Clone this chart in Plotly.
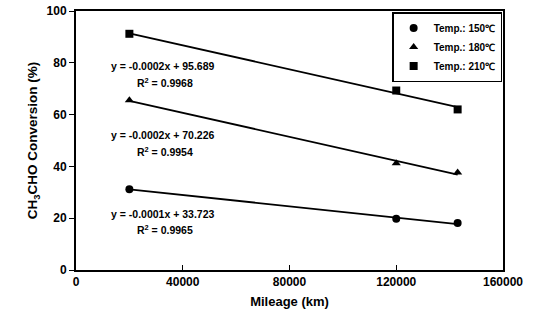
import numpy as np
import plotly.graph_objects as go

mileage = [20000, 120000, 143000]
conv_150 = [31.2, 19.8, 18.1]
conv_180 = [65.5, 41.2, 37.6]
conv_210 = [91.2, 69.3, 62.0]
series_names = ["Temp.: 150℃", "Temp.: 180℃", "Temp.: 210℃"]
symbols = ["circle", "triangle-up", "square"]
eq_texts = [
    ("y = -0.0001x + 33.723", "R<sup>2</sup> = 0.9965"),
    ("y = -0.0002x + 70.226", "R<sup>2</sup> = 0.9954"),
    ("y = -0.0002x + 95.689", "R<sup>2</sup> = 0.9968"),
]
eq_pos_y = [(21.5, 15.8), (52.2, 45.8), (78.6, 72.4)]
x_ticks = [0, 40000, 80000, 120000, 160000]
y_ticks = [0, 20, 40, 60, 80, 100]

font = "Liberation Sans, Arial, sans-serif"
fig = go.Figure()
for vals, name, sym in zip([conv_150, conv_180, conv_210], series_names, symbols):
    m, b = np.polyfit(mileage, vals, 1)
    xs = [mileage[0], mileage[-1]]
    fig.add_trace(go.Scatter(x=xs, y=[m * x + b for x in xs], mode="lines",
                             line=dict(color="black", width=1.8), showlegend=False,
                             hoverinfo="skip"))
    fig.add_trace(go.Scatter(x=mileage, y=vals, mode="markers", name=f"<b>{name}</b>",
                             marker=dict(symbol=sym, color="black", size=8)))

for (eq, r2), (ye, yr) in zip(eq_texts, eq_pos_y):
    fig.add_annotation(x=32500, y=ye, text=f"<b>{eq}</b>", showarrow=False,
                       font=dict(size=10.5, color="black", family=font))
    fig.add_annotation(x=33500, y=yr, text=f"<b>{r2}</b>", showarrow=False,
                       font=dict(size=10.5, color="black", family=font))

fig.update_layout(
    width=538, height=329,
    margin=dict(l=76, r=35, t=11, b=59, autoexpand=False),
    paper_bgcolor="white", plot_bgcolor="white",
    font=dict(family=font, color="black", size=12),
    legend=dict(x=0.998, y=0.996, xanchor="right", yanchor="top",
                bordercolor="black", borderwidth=1.5, bgcolor="white",
                font=dict(size=10, family=font), itemwidth=30,
                tracegroupgap=0),
)
fig.update_xaxes(range=[0, 160000], tickvals=x_ticks, ticktext=[f"<b>{v}</b>" for v in x_ticks],
                 showgrid=False, zeroline=False, showline=True, linecolor="black", linewidth=2,
                 mirror=True, ticks="inside", ticklen=5, tickcolor="black", automargin=False,
                 title=dict(text="<b>Mileage (km)</b>", font=dict(size=13), standoff=8))
fig.update_yaxes(range=[0, 100], tickvals=y_ticks, ticktext=[f"<b>{v}</b>" for v in y_ticks],
                 showgrid=False, zeroline=False, showline=True, linecolor="black", linewidth=2,
                 mirror=True, ticks="outside", ticklen=5, tickcolor="black", automargin=False,
                 title=dict(text="<b>CH<sub>3</sub>CHO Conversion (%)</b>", font=dict(size=13.5), standoff=6))

fig.write_html("out.html", config={"displayModeBar": False})
with open("out.html", encoding="utf-8") as f:
    html = f.read()
html = html.replace("<body>", '<body style="margin:0;overflow:hidden">', 1)
with open("out.html", "w", encoding="utf-8") as f:
    f.write(html)
